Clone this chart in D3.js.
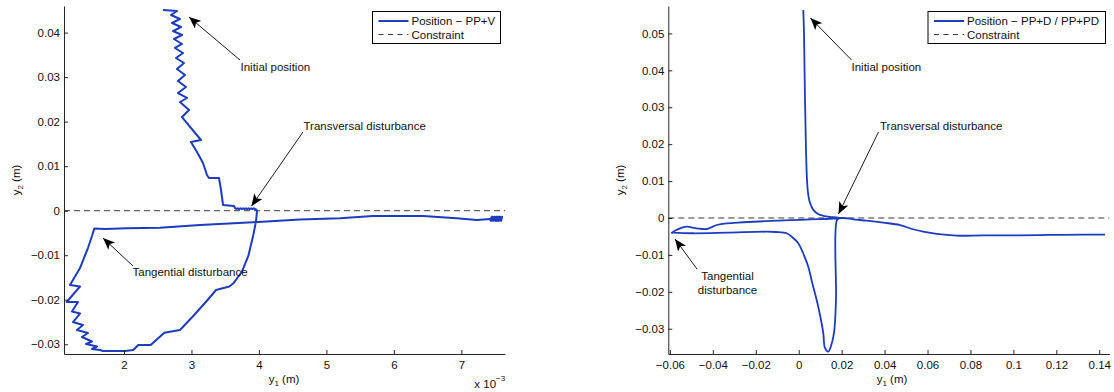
<!DOCTYPE html>
<html>
<head>
<meta charset="utf-8">
<script src="https://cdn.jsdelivr.net/npm/d3@7"></script>
<style>
  html, body { margin: 0; padding: 0; background: #fff; }
  svg { display: block; font-family: "Liberation Sans", Arial, Helvetica, sans-serif; }
  .axis path, .axis line { stroke: #262626; stroke-width: 1; }
  .axis text { fill: #111; font-size: 11.5px; font-family: "Liberation Sans", Arial, sans-serif; }
</style>
</head>
<body>
<svg id="chart" width="1114" height="392"></svg>
<script>
// ---- Trajectory with PP+V controller (y1 in units of 1e-3 m, y2 in m) ----
const ppvY1 = [
  2.578, 2.786, 2.697, 2.830, 2.712, 2.845, 2.726, 2.860, 2.741, 2.860, 2.756, 2.875,
  2.771, 2.889, 2.786, 2.904, 2.800, 2.919, 2.800, 2.934, 2.830, 2.964, 2.860, 3.141,
  2.993, 3.082, 3.171, 3.230, 3.260, 3.408, 3.438, 3.468, 3.631, 3.645,
  3.665, 3.685, 3.705, 3.725, 3.745, 3.765, 3.785, 3.805, 3.825, 3.845, 3.865, 3.885,
  3.905, 3.925, 3.945, 3.957, 3.972,
  3.957, 3.917, 3.843, 3.745, 3.621, 3.561, 3.364, 3.226, 3.027, 2.830, 2.597, 2.396,
  2.212, 2.138, 2.015, 1.689, 1.644,
  1.526, 1.600, 1.437, 1.526, 1.377, 1.466, 1.303, 1.392, 1.244, 1.348, 1.229, 1.318,
  1.151, 1.348, 1.200, 1.348, 1.466, 1.526, 1.560,
  1.718, 2.040, 2.534, 3.127, 3.913, 4.609, 5.202, 5.691, 6.432, 6.932, 7.228, 7.425,
  7.440, 7.455, 7.470, 7.485, 7.500, 7.515, 7.530, 7.545, 7.560, 7.575, 7.590, 7.603,
  7.590, 7.570, 7.550, 7.530, 7.510, 7.490, 7.470, 7.450, 7.435
];
const ppvY2 = [
  0.04507, 0.04485, 0.04395, 0.04305, 0.04215, 0.04125, 0.04035, 0.03946, 0.03856, 0.03744, 0.03654, 0.03541,
  0.03429, 0.03317, 0.03182, 0.03047, 0.02913, 0.02778, 0.02643, 0.02531, 0.02441, 0.02261, 0.02104, 0.01588,
  0.01543, 0.01318, 0.01071, 0.00802, 0.00735, 0.00735, 0.00465, 0.00128, 0.00106, 0.00061,
  0.00036, 0.00056, 0.00036, 0.00056, 0.00036, 0.00056, 0.00036, 0.00056, 0.00036, 0.00056, 0.00036, 0.00056,
  0.00036, 0.00056, 0.00036, 0.00030, -0.00007,
  -0.00231, -0.00546, -0.01017, -0.01377, -0.01630, -0.01702, -0.01781, -0.02028, -0.02365, -0.02679, -0.02740, -0.03016,
  -0.03016, -0.03128, -0.03151, -0.03151, -0.03128,
  -0.03106, -0.03050, -0.02993, -0.02937, -0.02836, -0.02746, -0.02679, -0.02567, -0.02500, -0.02309, -0.02264, -0.02050,
  -0.02050, -0.01702, -0.01669, -0.01287, -0.00838, -0.00568, -0.00400,
  -0.00411, -0.00395, -0.00382, -0.00321, -0.00260, -0.00198, -0.00171, -0.00119, -0.00119, -0.00171, -0.00209, -0.00186,
  -0.00228, -0.00135, -0.00228, -0.00135, -0.00228, -0.00135, -0.00228, -0.00135, -0.00228, -0.00135, -0.00228, -0.00135,
  -0.00228, -0.00135, -0.00228, -0.00135, -0.00228, -0.00135, -0.00228, -0.00135, -0.00200
];

// ---- Trajectory with PP+D / PP+PD controller (m) ----
const ppdY1 = [
  0.00214, 0.00247, 0.00293, 0.00340, 0.00380, 0.00430, 0.00520, 0.00680, 0.00900, 0.01146, 0.01450, 0.01770, 0.01924,
  0.01784, 0.01737, 0.01644, 0.01505, 0.01379, 0.01225, 0.01146, 0.00992, 0.00838, 0.00619,
  0.00447, 0.00200, -0.00019, -0.00312, -0.00559, -0.01057, -0.01490, -0.03353, -0.04909, -0.05841,
  -0.05915,
  -0.05529, -0.05217, -0.04751, -0.04285, -0.03819, -0.03353, -0.02580, -0.01025, 0.00526, 0.01304,
  0.02077, 0.02543, 0.03167, 0.03940, 0.04718, 0.05277, 0.05803, 0.06428, 0.07359, 0.08598,
  0.10154, 0.11705, 0.13256, 0.14266
];
const ppdY2 = [
  0.05634, 0.05003, 0.03196, 0.01842, 0.01100, 0.00700, 0.00420, 0.00220, 0.00110, 0.00060, 0.00030, 0.00015, 0.00000,
  -0.00054, -0.02221, -0.03115, -0.03467, -0.03621, -0.03521, -0.03123, -0.02627, -0.02221, -0.01733,
  -0.01319, -0.00948, -0.00685, -0.00515, -0.00414, -0.00379, -0.00371, -0.00398, -0.00414, -0.00398,
  -0.00398,
  -0.00279, -0.00236, -0.00279, -0.00298, -0.00190, -0.00144, -0.00116, -0.00073, -0.00035, -0.00027,
  0.00000, -0.00035, -0.00073, -0.00127, -0.00190, -0.00298, -0.00371, -0.00433, -0.00479, -0.00469,
  -0.00469, -0.00460, -0.00452, -0.00452
];

// ---- Axes limits and ticks ----
const leftXDomain = [1.111, 7.647];     // x 10^-3 m
const leftYDomain = [-0.03218, 0.04597];
const leftXTicks = [2, 3, 4, 5, 6, 7];
const leftYTicks = [-0.03, -0.02, -0.01, 0, 0.01, 0.02, 0.03, 0.04];

const rightXDomain = [-0.06074, 0.14467];
const rightYDomain = [-0.03684, 0.05742];
const rightXTicks = [-0.06, -0.04, -0.02, 0, 0.02, 0.04, 0.06, 0.08, 0.1, 0.12, 0.14];
const rightYTicks = [-0.03, -0.02, -0.01, 0, 0.01, 0.02, 0.03, 0.04, 0.05];

const constraintLevel = 0;
const legendLeft = ["Position \u2212 PP+V", "Constraint"];
const legendRight = ["Position \u2212 PP+D / PP+PD", "Constraint"];

const BLUE = "#1d3cbf";
const svg = d3.select("#chart");

const fmt = d => {
  const s = String(+d.toFixed(2));
  return s.replace("-", "\u2212");
};

// arrowhead marker (notched)
const defs = svg.append("defs");
defs.append("marker")
  .attr("id", "ah")
  .attr("viewBox", "0 0 12 10")
  .attr("refX", 12).attr("refY", 5)
  .attr("markerWidth", 12).attr("markerHeight", 10)
  .attr("markerUnits", "userSpaceOnUse")
  .attr("orient", "auto")
  .append("path")
  .attr("d", "M0,0 L12,5 L0,10 L3,5 Z")
  .attr("fill", "#000");

function panel(cfg) {
  const x = d3.scaleLinear().domain(cfg.xDomain).range([cfg.x0, cfg.x1]);
  const y = d3.scaleLinear().domain(cfg.yDomain).range([cfg.y1, cfg.y0]);
  const g = svg.append("g");

  const clipId = "clip" + cfg.id;
  defs.append("clipPath").attr("id", clipId).append("rect")
    .attr("x", cfg.x0).attr("y", cfg.y0)
    .attr("width", cfg.x1 - cfg.x0).attr("height", cfg.y1 - cfg.y0);

  // constraint
  g.append("line")
    .attr("x1", x(cfg.xDomain[0])).attr("x2", x(cfg.xDomain[1]))
    .attr("y1", y(constraintLevel)).attr("y2", y(constraintLevel))
    .attr("stroke", "#3a3a3a").attr("stroke-width", 1)
    .attr("stroke-dasharray", "6,4");

  // trajectory
  const pts = cfg.xs.map((v, i) => [v, cfg.ys[i]]);
  g.append("path")
    .attr("clip-path", `url(#${clipId})`)
    .attr("d", d3.line().curve(cfg.curve).x(d => x(d[0])).y(d => y(d[1]))(pts))
    .attr("fill", "none").attr("stroke", BLUE)
    .attr("stroke-width", cfg.lw).attr("stroke-linejoin", "round");

  // axes (ticks inward)
  g.append("g").attr("class", "axis")
    .attr("transform", `translate(0,${cfg.y1})`)
    .call(d3.axisBottom(x).tickValues(cfg.xTicks).tickFormat(fmt)
      .tickSizeInner(-4).tickSizeOuter(0).tickPadding(7));
  g.append("g").attr("class", "axis")
    .attr("transform", `translate(${cfg.x0},0)`)
    .call(d3.axisLeft(y).tickValues(cfg.yTicks).tickFormat(fmt)
      .tickSizeInner(-4).tickSizeOuter(0).tickPadding(4));

  // axis labels
  const xl = g.append("text")
    .attr("x", cfg.xLabelX).attr("y", 383)
    .attr("text-anchor", "middle").attr("font-size", "11.5px").attr("fill", "#111");
  xl.append("tspan").text("y");
  xl.append("tspan").attr("font-size", "8px").attr("dy", 3).text("1");
  xl.append("tspan").attr("dy", -3).text(" (m)");

  const yl = g.append("text")
    .attr("transform", `translate(${cfg.yLabelX},180) rotate(-90)`)
    .attr("text-anchor", "middle").attr("font-size", "11.5px").attr("fill", "#111");
  yl.append("tspan").text("y");
  yl.append("tspan").attr("font-size", "8px").attr("dy", 3).text("2");
  yl.append("tspan").attr("dy", -3).text(" (m)");

  // legend
  const L = cfg.legend;
  const lg = g.append("g");
  lg.append("rect")
    .attr("x", L.x).attr("y", 11.5).attr("width", L.w).attr("height", 32)
    .attr("fill", "#fff").attr("stroke", "#000").attr("stroke-width", 1);
  lg.append("line").attr("x1", L.x + 6).attr("x2", L.x + 36)
    .attr("y1", 21).attr("y2", 21).attr("stroke", BLUE).attr("stroke-width", 2);
  lg.append("line").attr("x1", L.x + 6).attr("x2", L.x + 36)
    .attr("y1", 34.5).attr("y2", 34.5).attr("stroke", "#3a3a3a")
    .attr("stroke-width", 1).attr("stroke-dasharray", "5,4.5");
  lg.selectAll("text.leg").data(cfg.legendText).join("text")
    .attr("x", L.x + 39).attr("y", (d, i) => 25.2 + i * 13.4)
    .attr("font-size", "11.5px").attr("fill", "#111").text(d => d);

  // annotations
  cfg.notes.forEach(n => {
    g.append("line")
      .attr("x1", n.from[0]).attr("y1", n.from[1])
      .attr("x2", n.to[0]).attr("y2", n.to[1])
      .attr("stroke", "#000").attr("stroke-width", 0.9)
      .attr("marker-end", "url(#ah)");
    const t = g.append("text").attr("font-size", "11.5px").attr("fill", "#111")
      .attr("text-anchor", n.anchor || "start");
    n.lines.forEach((s, i) => {
      t.append("tspan").attr("x", n.tx).attr("y", n.ty + i * 14).text(s);
    });
  });

  return { x, y, g };
}

const left = panel({
  id: "L", xs: ppvY1, ys: ppvY2, lw: 2, curve: d3.curveLinear,
  xDomain: leftXDomain, yDomain: leftYDomain,
  xTicks: leftXTicks, yTicks: leftYTicks,
  x0: 64, x1: 505, y0: 6, y1: 354,
  xLabelX: 284, yLabelX: 20,
  legend: { x: 372.5, w: 128 }, legendText: legendLeft,
  notes: [
    { from: [240, 60], to: [189, 17], lines: ["Initial position"], tx: 240.5, ty: 70.7 },
    { from: [303, 132], to: [251.5, 206], lines: ["Transversal disturbance"], tx: 303.5, ty: 130 },
    { from: [133, 266], to: [103, 238], lines: ["Tangential disturbance"], tx: 132.5, ty: 275.7 }
  ]
});

// multiplier for the left x axis
const mult = left.g.append("text").attr("x", 474.3).attr("y", 388)
  .attr("font-size", "11.5px").attr("fill", "#111");
mult.append("tspan").text("x 10");
mult.append("tspan").attr("font-size", "8px").attr("dy", -7).text("\u22123");

panel({
  id: "R", xs: ppdY1, ys: ppdY2, lw: 1.8, curve: d3.curveCatmullRom.alpha(0.5),
  xDomain: rightXDomain, yDomain: rightYDomain,
  xTicks: rightXTicks, yTicks: rightYTicks,
  x0: 668.3, x1: 1109.3, y0: 6, y1: 354,
  xLabelX: 892, yLabelX: 624,
  legend: { x: 928, w: 177.5 }, legendText: legendRight,
  notes: [
    { from: [851.5, 60], to: [810.5, 18], lines: ["Initial position"], tx: 851.5, ty: 70.7 },
    { from: [878.5, 132], to: [838.5, 214], lines: ["Transversal disturbance"], tx: 880, ty: 130 },
    { from: [697, 269], to: [675, 239], lines: ["Tangential", "disturbance"], tx: 727.5, ty: 280, anchor: "middle" }
  ]
});
</script>
</body>
</html>
